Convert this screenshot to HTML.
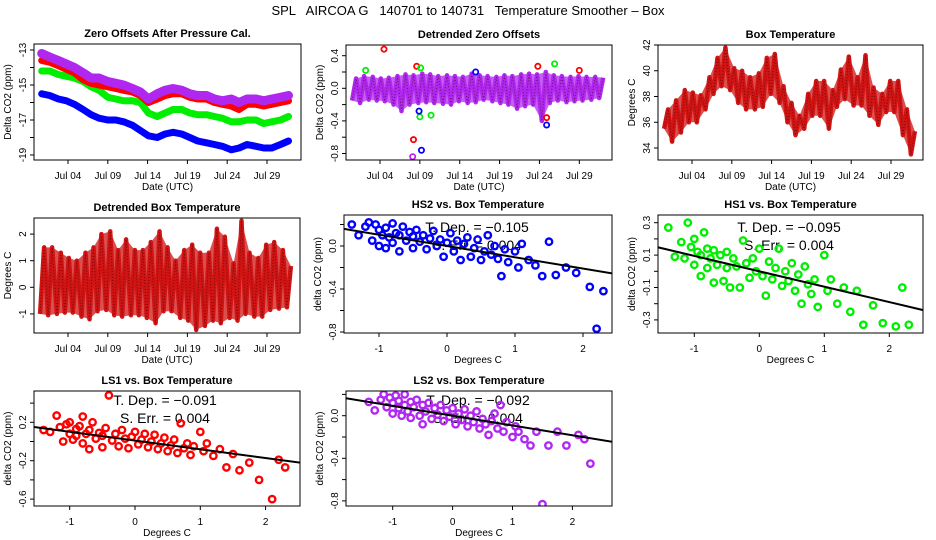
<!DOCTYPE html>
<html><head><meta charset="utf-8">
<style>
html,body{margin:0;padding:0;background:#fff;}
svg{display:block;font-family:"Liberation Sans",Arial,sans-serif;}
</style></head>
<body>
<svg id="chart" width="936" height="540" viewBox="0 0 936 540" xmlns="http://www.w3.org/2000/svg">
<rect x="0" y="0" width="936" height="540" fill="#fff"/>
<text x="468" y="15" text-anchor="middle" font-size="13" xml:space="preserve">SPL   AIRCOA G   140701 to 140731   Temperature Smoother – Box</text>
</svg>
<script>
// ---- data ----
const days = [0.7,1.7,2.8,3.8,4.8,5.9,6.9,7.9,9.0,10.0,11.0,12.1,13.1,14.1,15.2,16.2,17.2,18.3,19.3,20.3,21.4,22.4,23.4,24.5,25.5,26.5,27.6,28.6,29.6,30.7,31.7];
const zoPurple = [-13.2,-13.4,-13.6,-13.8,-14.0,-14.3,-14.6,-14.6,-14.8,-14.9,-15.0,-15.2,-15.4,-15.8,-15.5,-15.3,-15.2,-15.3,-15.5,-15.6,-15.6,-15.8,-15.9,-15.8,-16.0,-15.8,-15.8,-15.9,-15.8,-15.7,-15.6];
const zoRed = [-13.6,-13.7,-13.9,-14.1,-14.3,-14.7,-14.9,-15.0,-15.1,-15.2,-15.3,-15.4,-15.6,-16.0,-15.8,-15.6,-15.5,-15.5,-15.7,-15.8,-15.8,-16.0,-16.1,-16.2,-16.4,-16.1,-16.1,-16.2,-16.1,-16.0,-15.9];
const zoGreen = [-14.2,-14.2,-14.4,-14.5,-14.6,-14.8,-15.1,-15.3,-15.7,-15.8,-15.9,-15.9,-16.0,-16.6,-16.8,-16.6,-16.4,-16.4,-16.6,-16.7,-16.7,-16.8,-16.9,-17.1,-17.1,-17.0,-17.0,-17.2,-17.1,-17.0,-16.8];
const zoBlue = [-15.5,-15.6,-15.8,-15.9,-16.1,-16.4,-16.7,-16.9,-17.0,-17.0,-17.1,-17.3,-17.6,-17.9,-18.0,-17.8,-17.7,-17.8,-18.0,-18.2,-18.3,-18.4,-18.5,-18.7,-18.6,-18.4,-18.5,-18.6,-18.6,-18.4,-18.2];
const dtHi = [0.12,0.15,0.14,0.12,0.13,0.15,0.17,0.16,0.18,0.17,0.15,0.16,0.15,0.14,0.18,0.16,0.15,0.14,0.16,0.15,0.17,0.18,0.17,0.2,0.16,0.15,0.14,0.15,0.14,0.14,0.13];
const dtLo = [-0.15,-0.18,-0.14,-0.15,-0.16,-0.2,-0.28,-0.2,-0.18,-0.17,-0.18,-0.19,-0.2,-0.16,-0.18,-0.17,-0.14,-0.16,-0.18,-0.2,-0.25,-0.22,-0.2,-0.4,-0.18,-0.15,-0.17,-0.16,-0.15,-0.14,-0.12];
const outDays = [4.5,8.2,8.6,23.8,29.0,24.9,9.1,9.0,10.4,25.9,2.2,8.9,9.2,24.9,16.0,8.1];
const outVals = [0.48,-0.63,0.27,0.27,0.22,-0.36,0.25,-0.35,-0.33,0.3,0.22,-0.28,-0.76,-0.45,0.2,-0.84];
const outColors = ["#ff0000","#ff0000","#ff0000","#ff0000","#ff0000","#ff0000","#00ee00","#00ee00","#00ee00","#00ee00","#00ee00","#0000ff","#0000ff","#0000ff","#0000ff","#c020f0"];
const boxLo = [35.5,34.5,35.2,36.0,36.0,37.0,38.2,38.8,38.5,37.5,37.0,37.0,37.2,38.2,37.5,36.0,35.0,35.5,36.5,36.5,35.5,37.2,37.8,37.3,37.3,36.5,35.8,36.8,36.8,35.0,33.5];
const boxHi = [37.0,37.7,38.5,38.3,38.1,39.5,41.0,41.8,40.2,40.0,39.5,39.8,41.0,41.3,38.8,37.5,36.5,38.2,39.2,39.2,38.5,40.1,41.1,39.5,41.2,38.7,38.2,39.2,39.2,37.0,35.3];
const dbHi = [1.5,1.5,1.3,1.1,1.0,1.3,1.5,2.0,2.1,1.4,1.8,1.4,1.4,1.7,2.1,1.5,1.0,1.4,1.6,1.3,1.3,2.2,1.9,0.9,2.5,1.3,1.1,1.6,1.7,1.4,0.8];
const dbLo = [-1.0,-1.05,-1.0,-0.95,-0.95,-1.1,-1.2,-0.9,-0.85,-1.05,-1.1,-1.05,-1.05,-1.15,-1.35,-0.9,-0.9,-1.15,-1.25,-1.6,-1.45,-1.25,-1.35,-1.15,-1.25,-1.0,-1.1,-1.1,-0.85,-0.8,-0.75];
const tempX = [-1.4,-1.3,-1.2,-1.15,-1.1,-1.05,-1.0,-1.0,-0.95,-0.9,-0.9,-0.85,-0.8,-0.8,-0.75,-0.7,-0.7,-0.65,-0.6,-0.55,-0.5,-0.5,-0.45,-0.4,-0.35,-0.3,-0.25,-0.2,-0.15,-0.1,-0.05,0.0,0.05,0.1,0.15,0.2,0.25,0.3,0.35,0.4,0.45,0.5,0.55,0.6,0.65,0.7,0.75,0.8,0.85,0.9,1.0,1.05,1.1,1.2,1.3,1.4,1.5,1.6,1.75,1.9,2.1,2.2,2.3];
const hs2Y = [0.2,0.1,0.18,0.22,0.05,0.2,0.15,0.0,0.1,0.17,-0.02,0.08,0.21,0.03,0.12,-0.05,0.1,0.18,0.05,0.13,-0.02,0.09,0.15,0.04,0.1,-0.03,0.07,0.14,0.0,0.06,-0.1,0.03,0.12,-0.05,0.05,-0.13,0.02,0.08,-0.1,-0.02,0.06,-0.13,-0.05,0.1,-0.08,0.0,-0.12,-0.28,-0.03,-0.15,-0.05,-0.2,0.02,-0.13,-0.18,-0.28,0.04,-0.27,-0.2,-0.25,-0.38,-0.77,-0.42];
const hs1Y = [0.27,0.09,0.18,0.08,0.3,0.15,0.2,0.04,0.12,-0.03,0.1,0.24,0.14,0.02,0.08,-0.07,0.13,0.04,0.1,-0.06,0.12,0.02,-0.1,0.08,0.03,-0.1,0.19,0.05,-0.04,0.08,0.0,0.14,-0.03,-0.15,0.06,-0.05,0.02,0.14,-0.09,0.0,-0.06,0.05,-0.12,-0.02,-0.2,0.03,-0.08,-0.14,-0.05,-0.22,0.1,-0.12,-0.05,-0.2,-0.1,-0.25,-0.12,-0.33,-0.21,-0.32,-0.34,-0.1,-0.33];
const ls1Y = [0.12,0.1,0.27,0.15,0.0,0.18,0.08,0.2,0.02,0.13,0.06,0.16,-0.02,0.26,0.08,-0.08,0.12,0.2,0.03,0.09,-0.06,0.06,0.14,0.48,0.01,0.08,-0.05,0.12,0.03,-0.07,0.05,0.1,-0.03,0.02,0.08,-0.06,0.0,0.07,-0.08,-0.02,0.04,-0.1,-0.04,0.02,-0.12,0.19,-0.07,-0.02,-0.14,-0.05,0.1,-0.1,-0.02,-0.15,-0.08,-0.27,-0.13,-0.3,-0.22,-0.4,-0.6,-0.19,-0.27];
const ls2Y = [0.13,0.05,0.15,0.2,0.08,0.17,0.02,0.12,0.19,0.07,0.14,0.0,0.2,0.1,0.04,0.13,-0.02,0.08,0.15,0.0,-0.08,0.1,0.04,0.12,-0.03,0.07,0.01,0.1,-0.05,0.05,-0.01,0.07,-0.08,0.02,-0.04,0.06,-0.1,0.0,-0.06,0.04,-0.12,-0.03,-0.08,-0.18,-0.05,0.02,-0.12,0.1,-0.15,-0.06,-0.2,-0.1,-0.15,-0.22,-0.28,-0.15,-0.83,-0.28,-0.15,-0.28,-0.18,-0.22,-0.45];
const fitSlopes = [-0.105,-0.095,-0.091,-0.092];
const fitIntercepts = [0.0,0.0,0.01,0.0];
const statTexts = ["−0.105","−0.095","−0.091","−0.092"];
const dateTicks = [4,9,14,19,24,29];
const dateTickLabels = ["Jul 04","Jul 09","Jul 14","Jul 19","Jul 24","Jul 29"];
const tempTicks = [-1,0,1,2];

// ---- helpers ----
const NS = "http://www.w3.org/2000/svg";
const svg = document.getElementById("chart");
function mk(tag, attrs, parent){
  const e = document.createElementNS(NS, tag);
  for (const k in attrs) e.setAttribute(k, attrs[k]);
  (parent || svg).appendChild(e);
  return e;
}
function linear(d0, d1, r0, r1){ return v => r0 + (v - d0) * (r1 - r0) / (d1 - d0); }

function panel(p){
  const g = mk("g", {});
  
  
  const [L,T,R,B] = p.box;
  const clipId = p.name + "-clip";
  const cp = mk("clipPath", {id: clipId}, g);
  mk("rect", {x:L, y:T, width:R-L, height:B-T}, cp);
  const title = mk("text", {x:(L+R)/2, y:T-7, "text-anchor":"middle", "font-size":"11", "font-weight":"bold"}, g);
  title.textContent = p.title;
  
  
  p.xticks.forEach((t,i) => {
    const x = p.sx(t);
    mk("line", {x1:x, y1:B, x2:x, y2:B+4, stroke:"#000", "stroke-width":"1"}, g);
    const tl = mk("text", {x:x, y:B+19, "text-anchor":"middle", "font-size":"10"}, g);
    tl.textContent = p.xlabels[i];
    
    
  });
  const xt = mk("text", {x:(L+R)/2, y:B+30, "text-anchor":"middle", "font-size":"10"}, g);
  xt.textContent = p.xtitle;
  
  
  p.yticks.forEach((t,i) => {
    const y = p.sy(t);
    mk("line", {x1:L-4, y1:y, x2:L, y2:y, stroke:"#000", "stroke-width":"1"}, g);
    if (p.ylabels[i] !== "") {
      const yl = mk("text", {transform:`translate(${L-8},${y}) rotate(-90)`, "text-anchor":"middle", "font-size":"10"}, g);
      yl.textContent = p.ylabels[i];
      
      
    }
  });
  const yt = mk("text", {transform:`translate(${L-23},${(T+B)/2}) rotate(-90)`, "text-anchor":"middle", "font-size":"10"}, g);
  yt.textContent = p.ytitle;
  
  
  const plot = mk("g", {"clip-path":`url(#${clipId})`}, g);
  
  
  const frame = mk("rect", {x:L, y:T, width:R-L, height:B-T, fill:"none", stroke:"#000", "stroke-width":"1"}, g);
  
  
  return {g, plot};
}
function band(parent, sx, sy, xs, ys, color, w, name){
  const pts = xs.map((d,i) => sx(d).toFixed(1) + "," + sy(ys[i]).toFixed(1)).join(" ");
  const pl = mk("polyline", {points:pts, fill:"none", stroke:color, "stroke-width":w, "stroke-linejoin":"round", "stroke-linecap":"round"}, parent);
  
  
  xs.forEach((d,i) => {
    const c = mk("circle", {cx:sx(d), cy:sy(ys[i]), r:2.5, fill:"none", stroke:color, "stroke-width":"1.5"}, parent);
    
    
  });
}
function zigzag(parent, sx, sy, lo, hi, color, name){
  // filled envelope between daily lows and highs
  const top = days.map((d,i) => sx(d + 0.3).toFixed(1) + "," + sy(hi[i]).toFixed(1));
  const bot = days.map((d,i) => sx(d - 0.2).toFixed(1) + "," + sy(lo[i]).toFixed(1)).reverse();
  const area = mk("polygon", {points:top.concat(bot).join(" "), fill:color, opacity:"0.75"}, parent);
  
  
  const pts = [];
  days.forEach((d,i) => {
    pts.push(sx(d - 0.2).toFixed(1) + "," + sy(lo[i]).toFixed(1));
    pts.push(sx(d + 0.3).toFixed(1) + "," + sy(hi[i]).toFixed(1));
  });
  const pl = mk("polyline", {points:pts.join(" "), fill:"none", stroke:color, "stroke-width":"4.5", "stroke-linejoin":"round"}, parent);
  
  
  const pl2 = mk("polyline", {points:pts.join(" "), fill:"none", stroke:"#400000", "stroke-width":"1", "stroke-dasharray":"1 2", opacity:"0.6"}, parent);
  
  
}
function scatter(p, parts, ys, color, k){
  const s = mk("text", {x:p.statX, y:p.statY, "text-anchor":"middle", "font-size":"14"}, parts.plot);
  s.textContent = "T. Dep. =  " + statTexts[k];
  
  
  const s2 = mk("text", {x:p.statX, y:p.statY + 18, "text-anchor":"middle", "font-size":"14"}, parts.plot);
  s2.textContent = "S. Err. =  0.004";
  
  
  tempX.forEach((x,i) => {
    const c = mk("circle", {cx:p.sx(x), cy:p.sy(ys[i]), r:3.2, fill:"none", stroke:color, "stroke-width":"2.4"}, parts.plot);
    
    
  });
  const x0 = -3, x1 = 3;
  const ln = mk("line", {x1:p.sx(x0), y1:p.sy(fitIntercepts[k] + fitSlopes[k]*x0), x2:p.sx(x1), y2:p.sy(fitIntercepts[k] + fitSlopes[k]*x1), stroke:"#000", "stroke-width":"2"}, parts.plot);
  
  
}

// ---- panels ----
const dx1 = linear(4, 29, 68, 267);
const p1 = {name:"zero-offsets-panel", title:"Zero Offsets After Pressure Cal.", box:[34,44,301,160],
  sx:dx1, sy:linear(-13,-19,50,155), xticks:dateTicks, xlabels:dateTickLabels, xtitle:"Date (UTC)",
  yticks:[-13,-14,-15,-16,-17,-18,-19], ylabels:["-13","","-15","","-17","","-19"], ytitle:"Delta CO2 (ppm)"};
const q1 = panel(p1);
band(q1.plot, p1.sx, p1.sy, days, zoBlue, "#0000ff", 7, "series-blue-hs2");
band(q1.plot, p1.sx, p1.sy, days, zoGreen, "#00ee00", 7, "series-green-hs1");
band(q1.plot, p1.sx, p1.sy, days, zoRed, "#ff0000", 7, "series-red-ls1");
band(q1.plot, p1.sx, p1.sy, days, zoPurple, "#b028f0", 9, "series-purple-ls2");

const p2 = {name:"detrended-zero-offsets-panel", title:"Detrended Zero Offsets", box:[346,45,612,160],
  sx:linear(4,29,380,579.3), sy:linear(0,0.4,88.3,55.7), xticks:dateTicks, xlabels:dateTickLabels, xtitle:"Date (UTC)",
  yticks:[0.4,0.2,0,-0.2,-0.4,-0.6,-0.8], ylabels:["0.4","","0.0","","-0.4","","-0.8"], ytitle:"Delta CO2 (ppm)"};
const q2 = panel(p2);
zigzag(q2.plot, p2.sx, p2.sy, dtLo, dtHi, "#b028f0", "detrended-offsets-band");
outDays.forEach((d,i) => {
  const c = mk("circle", {cx:p2.sx(d), cy:p2.sy(outVals[i]), r:2.6, fill:"none", stroke:outColors[i], "stroke-width":"1.8"}, q2.plot);
  
  
});

const p3 = {name:"box-temperature-panel", title:"Box Temperature", box:[658,45,923,160],
  sx:linear(4,29,692,891), sy:linear(42,34,45,148), xticks:dateTicks, xlabels:dateTickLabels, xtitle:"Date (UTC)",
  yticks:[42,40,38,36,34], ylabels:["42","40","38","36","34"], ytitle:"Degrees C"};
const q3 = panel(p3);
zigzag(q3.plot, p3.sx, p3.sy, boxLo, boxHi, "#d01414", "box-temperature-series");

const p4 = {name:"detrended-box-temperature-panel", title:"Detrended Box Temperature", box:[34,218,300,333],
  sx:dx1, sy:linear(0,2,287.3,234.1), xticks:dateTicks, xlabels:dateTickLabels, xtitle:"Date (UTC)",
  yticks:[2,1,0,-1], ylabels:["2","1","0","-1"], ytitle:"Degrees C"};
const q4 = panel(p4);
zigzag(q4.plot, p4.sx, p4.sy, dbLo, dbHi, "#d01414", "detrended-box-temperature-series");

const p5 = {name:"hs2-vs-temperature-panel", title:"HS2 vs. Box Temperature", box:[344,215,612,333],
  sx:linear(0,1,447,515), sy:linear(0,-0.2,246,267.5), xticks:tempTicks, xlabels:["-1","0","1","2"], xtitle:"Degrees C",
  yticks:[0.2,0,-0.2,-0.4,-0.6,-0.8], ylabels:["","0.0","","-0.4","","-0.8"], ytitle:"delta CO2 (ppm)", statX:477, statY:232};
const q5 = panel(p5);
scatter(p5, q5, hs2Y, "#0000ff", 0);

const p6 = {name:"hs1-vs-temperature-panel", title:"HS1 vs. Box Temperature", box:[658,215,923,333],
  sx:linear(0,1,759.3,824.3), sy:linear(0,0.1,271.3,255.1), xticks:tempTicks, xlabels:["-1","0","1","2"], xtitle:"Degrees C",
  yticks:[0.3,0.2,0.1,0,-0.1,-0.2,-0.3], ylabels:["0.3","","0.1","","-0.1","","-0.3"], ytitle:"delta CO2 (ppm)", statX:789, statY:232};
const q6 = panel(p6);
scatter(p6, q6, hs1Y, "#00ee00", 1);

const p7 = {name:"ls1-vs-temperature-panel", title:"LS1 vs. Box Temperature", box:[34,391,300,506],
  sx:linear(0,1,135,200.3), sy:linear(0,0.2,441.5,422.3), xticks:tempTicks, xlabels:["-1","0","1","2"], xtitle:"Degrees C",
  yticks:[0.4,0.2,0,-0.2,-0.4,-0.6], ylabels:["","0.2","","-0.2","","-0.6"], ytitle:"delta CO2 (ppm)", statX:165, statY:405};
const q7 = panel(p7);
scatter(p7, q7, ls1Y, "#ff0000", 2);

const p8 = {name:"ls2-vs-temperature-panel", title:"LS2 vs. Box Temperature", box:[346,391,612,506],
  sx:linear(0,1,452.6,512.5), sy:linear(0,-0.2,415.7,437), xticks:tempTicks, xlabels:["-1","0","1","2"], xtitle:"Degrees C",
  yticks:[0.2,0,-0.2,-0.4,-0.6,-0.8], ylabels:["","0.0","","-0.4","","-0.8"], ytitle:"delta CO2 (ppm)", statX:478, statY:405};
const q8 = panel(p8);
scatter(p8, q8, ls2Y, "#b028f0", 3);
</script>
</body></html>
